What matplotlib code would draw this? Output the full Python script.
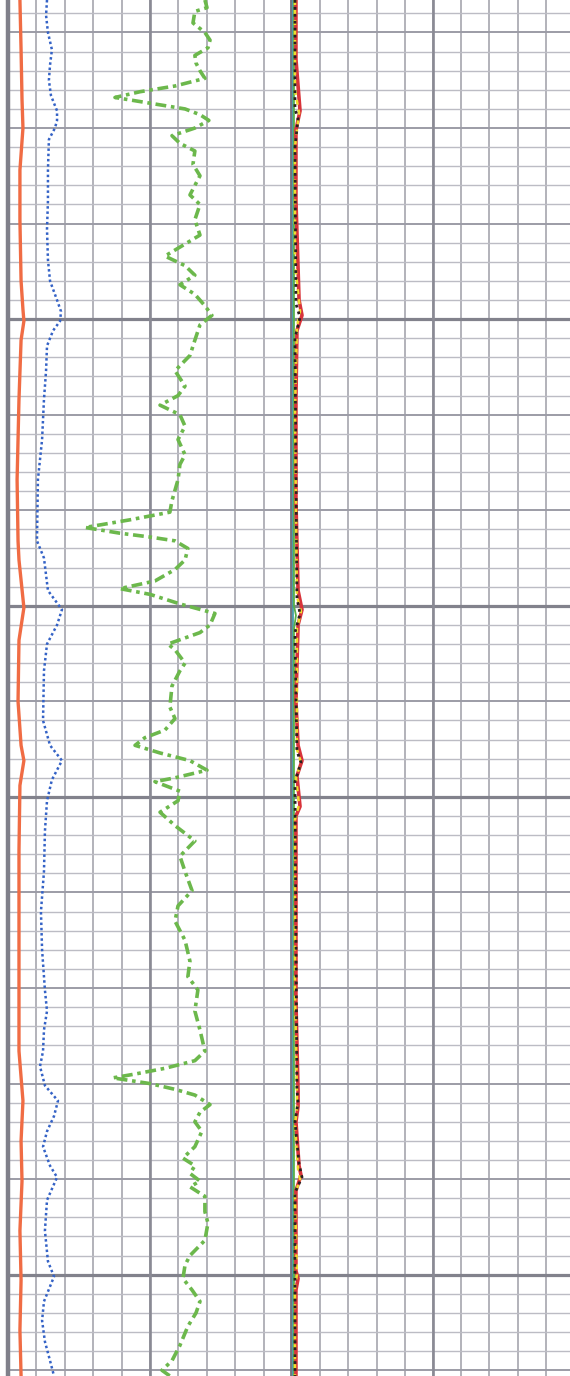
import numpy as np
import matplotlib
matplotlib.use("Agg")
import matplotlib.pyplot as plt

#%% Data (depth in m, values read off the log)

# left track, scale 0-150 API
gr_depth = [998.3, 998.7, 998.9, 999.5, 1000.0, 1000.4, 1000.8, 1001.2, 1001.6, 1002.0,
            1002.4, 1002.8, 1003.1, 1003.4, 1003.7, 1004.0, 1004.3, 1004.6, 1005.0, 1005.4,
            1005.8, 1006.2, 1006.9, 1007.5, 1008.0, 1008.5, 1009.0, 1009.8, 1010.6, 1011.7,
            1012.2, 1012.7, 1013.2, 1013.7, 1014.3, 1014.8, 1015.3, 1016.1, 1016.9, 1017.7,
            1018.5, 1019.0, 1019.5, 1020.0, 1020.6, 1021.3, 1022.1, 1022.6, 1023.4, 1024.5,
            1025.1, 1025.5, 1025.9, 1026.2, 1026.4, 1026.6, 1027.0, 1027.6, 1028.1, 1028.7,
            1029.1, 1029.4, 1029.9, 1030.4, 1031.0, 1031.4, 1032.0, 1032.3, 1033.0, 1033.4,
            1034.2, 1035.3, 1035.9, 1036.5, 1036.9, 1037.3, 1037.7, 1038.1, 1038.6, 1039.0,
            1039.2, 1039.7, 1040.2, 1040.8, 1041.5, 1042.3, 1043.1, 1043.9, 1044.9, 1045.7,
            1046.5, 1047.5, 1048.6, 1049.4, 1050.1, 1051.2, 1052.2, 1053.3, 1053.8, 1054.2,
            1054.5, 1054.7, 1055.0, 1055.3, 1055.6, 1056.1, 1056.5, 1057.0, 1057.5, 1058.3,
            1058.9, 1059.3, 1059.7, 1060.1, 1060.4, 1060.9, 1061.7, 1062.3, 1063.2, 1064.0,
            1064.5, 1065.2, 1065.8, 1066.4, 1067.0, 1067.7, 1068.7, 1069.5, 1070.0, 1070.3]
gr_api = [104.0, 105.1, 98.7, 97.7, 104.0, 106.7, 105.6, 98.7, 99.3, 101.4,
          104.0, 88.2, 69.7, 56.5, 75.0, 93.5, 101.4, 106.1, 98.7, 86.6,
          90.8, 98.7, 97.7, 101.4, 98.7, 96.1, 101.4, 98.7, 101.4, 82.9,
          93.5, 98.7, 90.8, 98.7, 104.0, 107.7, 101.4, 98.7, 96.1, 88.2,
          93.5, 89.8, 80.3, 90.8, 93.5, 89.8, 93.5, 90.8, 89.8, 86.6,
          85.5, 64.4, 40.7, 59.1, 75.0, 88.2, 95.0, 93.5, 88.2, 77.6,
          59.1, 75.0, 90.8, 109.3, 106.7, 101.4, 84.5, 88.2, 93.5, 90.8,
          86.6, 85.5, 88.2, 82.9, 72.3, 67.1, 80.3, 96.1, 105.1, 88.2,
          77.6, 90.8, 89.8, 80.3, 88.2, 98.7, 90.8, 93.5, 97.2, 89.8,
          88.2, 93.5, 96.1, 95.0, 100.3, 98.7, 101.4, 104.0, 98.7, 82.9,
          67.1, 55.4, 75.0, 88.2, 98.7, 106.7, 101.4, 98.7, 102.4, 98.7,
          92.4, 98.7, 96.1, 101.4, 96.1, 104.0, 104.0, 105.6, 104.0, 96.1,
          93.5, 92.4, 97.2, 101.4, 99.3, 95.0, 90.8, 86.6, 81.3, 85.5]

sp_depth = [998.3, 999.1, 1000.0, 1000.9, 1001.7, 1002.5, 1003.3, 1004.1, 1004.6, 1005.0,
            1005.6, 1007.2, 1008.8, 1010.3, 1011.9, 1013.0, 1014.0, 1014.6, 1015.1, 1015.6,
            1016.4, 1017.7, 1019.2, 1021.3, 1023.4, 1026.6, 1027.5, 1029.2, 1030.2, 1031.0,
            1032.0, 1033.4, 1036.0, 1037.3, 1038.1, 1039.1, 1040.2, 1041.8, 1043.9, 1046.0,
            1048.0, 1050.1, 1051.2, 1052.2, 1053.3, 1054.1, 1055.1, 1055.9, 1056.7, 1057.5,
            1058.3, 1059.3, 1059.9, 1061.1, 1062.7, 1064.3, 1065.1, 1066.4, 1067.4, 1068.5,
            1069.5, 1070.3]
sp_val = [20.6, 20.1, 21.1, 23.2, 22.2, 21.6, 22.7, 25.9, 25.9, 24.8,
          21.6, 21.1, 21.1, 20.6, 21.1, 22.2, 25.9, 28.0, 27.5, 23.8,
          20.6, 20.1, 19.0, 18.0, 15.8, 15.3, 19.0, 21.1, 28.5, 25.9,
          20.6, 19.0, 18.5, 22.2, 28.5, 23.2, 20.6, 19.5, 19.0, 17.4,
          18.0, 19.5, 20.6, 19.0, 18.5, 16.9, 19.5, 26.4, 24.3, 20.6,
          18.5, 22.2, 25.9, 20.6, 19.5, 21.1, 24.3, 19.0, 18.0, 19.5,
          22.2, 24.3]

cal_depth = [998.3, 1000.9, 1003.5, 1005.0, 1007.2, 1009.8, 1013.0, 1014.5, 1015.1, 1016.1,
             1019.2, 1023.4, 1026.6, 1027.6, 1030.1, 1031.8, 1035.0, 1037.3, 1038.1, 1039.4,
             1042.8, 1048.0, 1053.3, 1055.9, 1058.0, 1060.1, 1062.7, 1065.3, 1067.9, 1070.3]
cal_val = [6.3, 6.9, 7.4, 7.9, 6.3, 6.3, 6.9, 7.9, 8.4, 6.9,
           5.8, 4.8, 5.3, 5.8, 8.4, 5.8, 5.3, 6.9, 8.4, 6.3,
           5.8, 5.8, 5.8, 7.9, 6.9, 7.4, 6.3, 6.9, 6.3, 6.9]

# right track, scale 0-20 ohm.m
rdeep_depth = [998.3, 1001.4, 1004.1, 1005.1, 1008.8, 1014.0, 1014.8, 1015.6, 1019.2, 1024.5,
               1029.2, 1030.2, 1031.0, 1035.0, 1037.3, 1038.1, 1038.9, 1040.5, 1041.0, 1045.4,
               1050.7, 1055.4, 1056.2, 1057.0, 1059.3, 1059.8, 1060.6, 1064.8, 1065.2, 1065.8,
               1070.3]
rdeep_val = [0.28, 0.28, 0.57, 0.28, 0.28, 0.50, 0.71, 0.35, 0.28, 0.28,
             0.43, 0.71, 0.43, 0.28, 0.43, 0.71, 0.35, 0.57, 0.28, 0.28,
             0.28, 0.43, 0.43, 0.28, 0.50, 0.64, 0.28, 0.28, 0.43, 0.28,
             0.28]

rmed_depth = [998.3, 1003.0, 1004.2, 1006.0, 1012.0, 1014.6, 1015.4, 1020.0, 1029.5, 1030.3,
              1031.2, 1037.5, 1038.2, 1039.0, 1040.4, 1041.2, 1050.0, 1055.5, 1056.3, 1057.2,
              1059.5, 1060.0, 1060.8, 1065.0, 1065.6, 1070.3]
rmed_val = [0.21, 0.21, 0.50, 0.21, 0.21, 0.57, 0.35, 0.21, 0.35, 0.64,
            0.35, 0.35, 0.64, 0.28, 0.50, 0.21, 0.21, 0.35, 0.35, 0.21,
            0.43, 0.57, 0.21, 0.35, 0.21, 0.21]

rshal_depth = [998.3, 1004.0, 1004.5, 1006.0, 1014.2, 1014.9, 1016.0, 1029.6, 1030.4, 1031.4,
               1037.6, 1038.2, 1039.2, 1055.3, 1056.0, 1057.0, 1059.2, 1059.9, 1060.7, 1070.3]
rshal_val = [0.21, 0.21, 0.43, 0.21, 0.28, 0.57, 0.21, 0.35, 0.57, 0.21,
             0.35, 0.64, 0.21, 0.35, 0.43, 0.21, 0.50, 0.71, 0.21, 0.21]

rxo_depth = [998.3, 1030.0, 1030.5, 1031.2, 1070.3]
rxo_val = [0.14, 0.14, 0.28, 0.14, 0.14]

mud_depth = [998.3, 1070.3]
mud_val = [0.07, 0.07]

# grid
minor_step = 1
medium_step = 5
heavy_lines = [1015, 1030, 1040, 1065]

#%% Plot

fig = plt.figure(figsize=(5.7, 13.76), dpi=100)
fig.patch.set_facecolor('white')

ax1 = fig.add_axes([8/570, 0, 284/570, 1])
ax2 = fig.add_axes([292/570, 0, 278/570, 1])

top, bot = 998.3, 1070.3

for ax, xmax, xstep in [(ax1, 150, 15), (ax2, 19.72, 2)]:
    ax.set_ylim(bot, top)
    ax.set_xlim(0, xmax)
    ax.set_yticks(np.arange(1000, 1071, medium_step))
    ax.set_yticks(np.arange(999, 1071, minor_step), minor=True)
    ax.set_xticks(np.arange(0, xmax + 0.01, xstep))
    ax.grid(which='minor', axis='y', color='#bcbcc4', lw=1.0)
    ax.grid(which='major', axis='y', color='#9c9ca6', lw=1.4)
    ax.grid(which='major', axis='x', color='#a6a6ae', lw=1.2)
    for d in heavy_lines:
        ax.axhline(d, color='#82828c', lw=2.3, zorder=0.9)
    ax.tick_params(which='both', length=0, labelleft=False, labelbottom=False)
    for s in ['top', 'bottom']:
        ax.spines[s].set_visible(False)
    ax.set_axisbelow(True)

ax1.axvline(75, color='#8a8a94', lw=1.9, zorder=0.9)
ax2.axvline(10, color='#8a8a94', lw=1.9, zorder=0.9)
ax1.spines['left'].set_color('#80808a')
ax1.spines['left'].set_linewidth(3.2)
ax1.spines['right'].set_color('#74747e')
ax1.spines['right'].set_linewidth(2.8)
ax2.spines['left'].set_visible(False)
ax2.spines['right'].set_visible(False)

# left track curves
ax1.plot(cal_val, cal_depth, color='#f06c44', lw=2.4, solid_joinstyle='round')
ax1.plot(sp_val, sp_depth, color='#3462c6', lw=1.8, ls=(0, (1, 1.1)))
ax1.plot(gr_api, gr_depth, color='#6cb84c', lw=2.6, ls=(0, (3, 1.3, 1, 1.3)))

# right track curves
ax2.plot(mud_val, mud_depth, color='#3a98a8', lw=1.2)
ax2.plot(rxo_val, rxo_depth, color='#58b048', lw=1.3)
ax2.plot(rdeep_val, rdeep_depth, color='#d8333a', lw=2.6, solid_joinstyle='round')
ax2.plot(rmed_val, rmed_depth, color='#f0dc30', lw=1.8, ls=(0, (2, 2)))
ax2.plot(rshal_val, rshal_depth, color='#2a2020', lw=2.0, ls=(0, (1, 1.5)))

fig.savefig('out.png', dpi=100, facecolor='white')
